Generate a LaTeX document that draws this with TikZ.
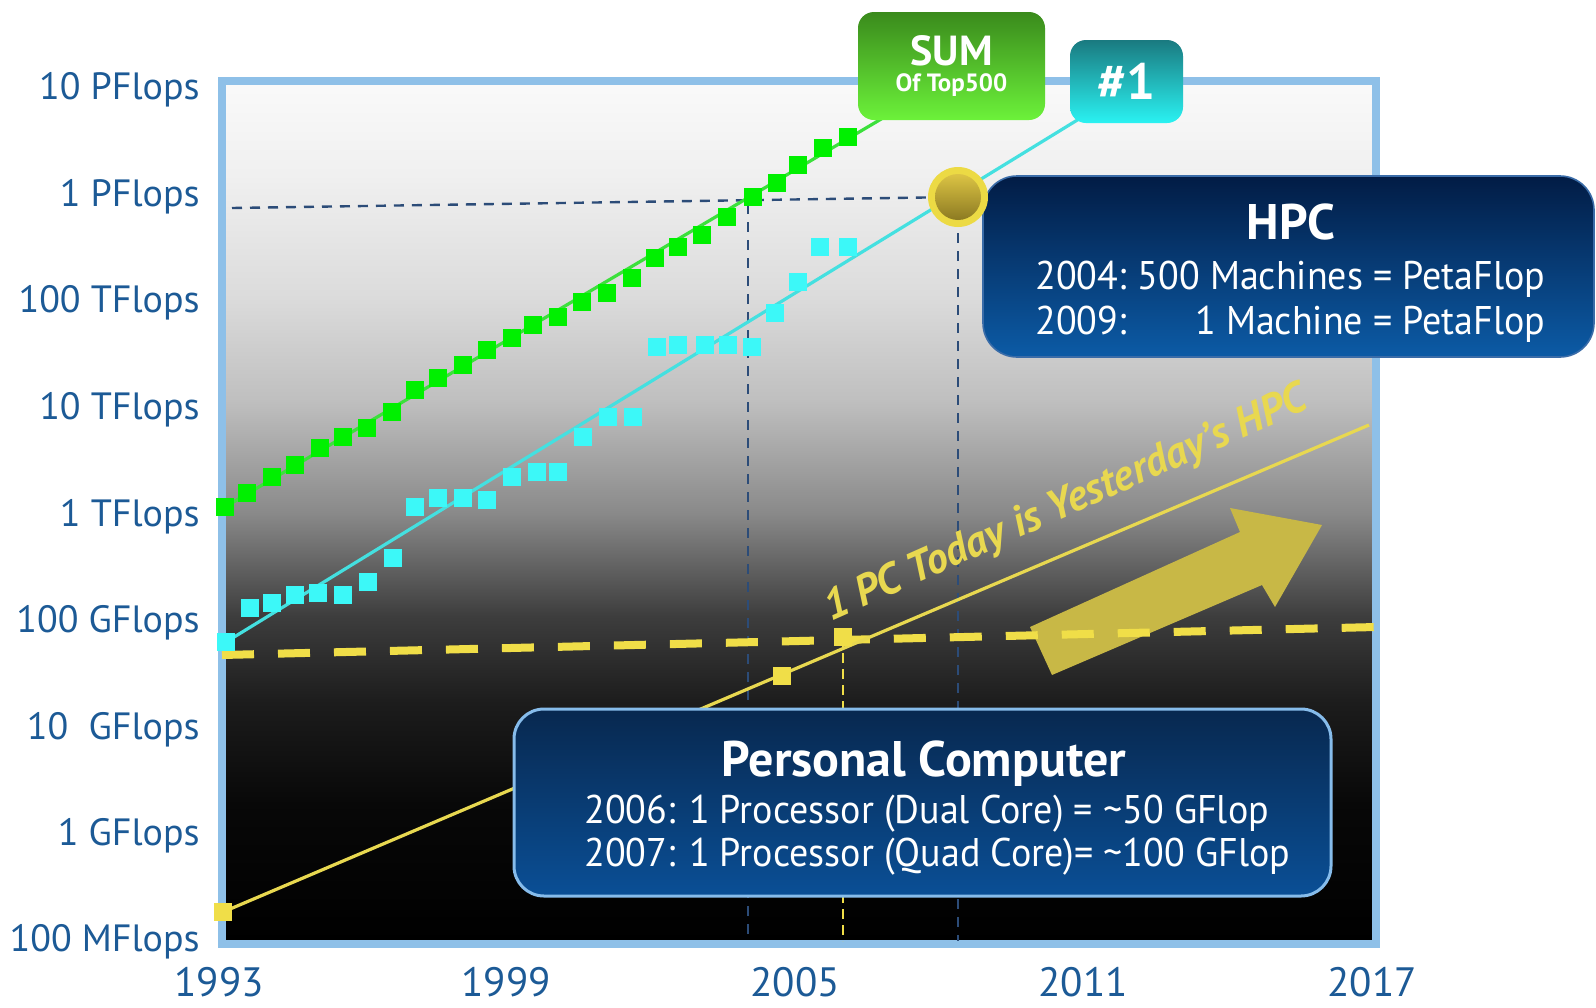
\documentclass[tikz,border=0pt]{standalone}
\usepackage{fontspec}
\setmainfont{PT Sans}
\newfontfamily\bodyfont{PT Sans}[FakeStretch=0.95]
\usetikzlibrary{calc}
\pgfdeclarelayer{bg}
\pgfdeclarelayer{lines}
\pgfsetlayers{bg,lines,main}
\definecolor{axisblue}{HTML}{1C5A96}
\definecolor{framecol}{HTML}{8EC0E8}
\definecolor{gmark}{HTML}{00F000}
\definecolor{gline}{HTML}{3CE03C}
\definecolor{cmark}{HTML}{3CF8F8}
\definecolor{cline}{HTML}{44E0E0}
\definecolor{ymark}{HTML}{F0DE48}
\definecolor{yline}{HTML}{E8D850}
\definecolor{arrowcol}{HTML}{C8B846}
\definecolor{dashblue}{HTML}{2C4C78}
\definecolor{sumtop}{HTML}{3A8A1C}
\definecolor{sumbot}{HTML}{6CF23A}
\definecolor{onetop}{HTML}{1A7A80}
\definecolor{onebot}{HTML}{2AF2F2}
\definecolor{hpctop}{HTML}{021C45}
\definecolor{hpcbot}{HTML}{0C5BA6}
\definecolor{hpcedge}{HTML}{3A6CA8}
\definecolor{pctop}{HTML}{08284F}
\definecolor{pcbot}{HTML}{0A4F96}
\definecolor{pcborder}{HTML}{86BCEB}
\definecolor{ballrim}{HTML}{ECDA44}
\definecolor{balltop}{HTML}{DCC444}
\definecolor{ballbot}{HTML}{8C7A22}
\pgfdeclareverticalshading{plotbg}{100bp}{color(0bp)=(black); color(25bp)=(black); color(33bp)=(black!97); color(39bp)=(black!89); color(44bp)=(black!76); color(50bp)=(black!46); color(56.5bp)=(black!25); color(62.5bp)=(black!14); color(69.5bp)=(black!6); color(75bp)=(black!2); color(100bp)=(black!2)}
\begin{document}
\begin{tikzpicture}[x=0.5pt,y=-0.5pt,
  axlab/.style={anchor=base east, text=axisblue, font=\fontsize{19}{19}\selectfont, inner sep=0},
  yearlab/.style={anchor=base, text=axisblue, font=\fontsize{20.5}{20.5}\selectfont, inner sep=0},
  gsq/.style={rectangle, fill=gmark, minimum size=9pt, inner sep=0},
  csq/.style={rectangle, fill=cmark, minimum size=9pt, inner sep=0},
  ysq/.style={rectangle, fill=ymark, minimum size=9pt, inner sep=0},
  sumbox/.style={rectangle, rounded corners=8pt, top color=sumtop, bottom color=sumbot, minimum width=93.5pt, minimum height=54pt, align=center, text=white, inner sep=0},
  onebox/.style={rectangle, rounded corners=8pt, top color=onetop, bottom color=onebot, minimum width=56.5pt, minimum height=41.5pt, text=white, inner sep=0},
  hpcbox/.style={rectangle, rounded corners=17pt, top color=hpctop, bottom color=hpcbot, draw=hpcedge, line width=0.8pt, minimum width=305.5pt, minimum height=90.5pt},
  pcbox/.style={rectangle, rounded corners=15pt, top color=pctop, bottom color=pcbot, draw=pcborder, line width=1.5pt, minimum width=408.5pt, minimum height=93.5pt},
  boxtitle/.style={anchor=base, text=white, inner sep=0},
  boxbody/.style={anchor=base west, text=white, inner sep=0},
  bluedash/.style={draw=dashblue, line width=1.2pt, dash pattern=on 5pt off 4pt},
  yellowdash/.style={draw=ymark, line width=4pt, dash pattern=on 16pt off 12pt},
]
\useasboundingbox (0,0) rectangle (1596,1007);

% ---------- background and frame ----------
\begin{pgfonlayer}{bg}
  \fill[white] (0,0) rectangle (1596,1007);
  \shade[shading=plotbg] (222,81) rectangle (1376,944);
  \draw[framecol, line width=4pt] (222,81) rectangle (1376,944);
\end{pgfonlayer}

% ---------- axis labels ----------
\node[axlab] (l8) at (200,99) {10 PFlops};
\node[axlab] (l7) at (200,206) {1 PFlops};
\node[axlab] (l6) at (200,312) {100 TFlops};
\node[axlab] (l5) at (200,419) {10 TFlops};
\node[axlab] (l4) at (200,526) {1 TFlops};
\node[axlab] (l3) at (200,632) {100 GFlops};
\node[axlab] (l2) at (200,739) {10\ \ GFlops};
\node[axlab] (l1) at (200,845) {1 GFlops};
\node[axlab] (l0) at (200,951) {100 MFlops};

\node[yearlab] (yr1) at (219,996) {1993};
\node[yearlab] (yr2) at (506,996) {1999};
\node[yearlab] (yr3) at (795,996) {2005};
\node[yearlab] (yr4) at (1083,996) {2011};
\node[yearlab] (yr5) at (1372,996) {2017};

% ---------- boxes ----------
\node[sumbox] (sum) at (951.5,66) {{\bfseries\fontsize{21}{21}\selectfont SUM}\\[1pt]{\bfseries\fontsize{12.5}{12.5}\selectfont Of Top500}};
\node[onebox] (one) at (1126.5,81.5) {\bfseries\fontsize{25.5}{25.5}\selectfont \#1};

\node[hpcbox] (hpc) at (1288.5,266.5) {};
\node[boxtitle] (hpct) at (1291,239) {\bfseries\fontsize{25}{25}\selectfont HPC};
\node[boxbody] (hpcb) at (1035,289) {\bodyfont\fontsize{20}{22.5}\selectfont
  \begin{tabular}[t]{@{}l@{\hspace{0.28em}}r@{}}2004: & 500 Machines = PetaFlop\\ 2009: & 1 Machine = PetaFlop\end{tabular}};

\node[pcbox] (pc) at (922.5,802.5) {};
\node[boxtitle] (pct) at (924,776) {\bfseries\fontsize{25}{25}\selectfont Personal Computer};
\node[boxbody] (pcb) at (584,823) {\bodyfont\fontsize{20}{21.5}\selectfont
  \begin{tabular}[t]{@{}l@{}}2006: 1 Processor (Dual Core) = \textasciitilde50 GFlop\\ 2007: 1 Processor (Quad Core)= \textasciitilde100 GFlop\end{tabular}};

% ---------- markers ----------
\foreach \x/\y [count=\i] in {225/507,247/493,272/477,295/465,320/448,343/437,367/428,392/412,415/390,438/378,463/365,487/350,512/338,533/325,558/317,582/302,607/293,632/278,655/258,678/247,702/235,727/217,753/197,777/183,798/165,823/148,848/137}
  \node[gsq] (g\i) at (\x,\y) {};
\foreach \x/\y [count=\i] in {226/642,250/608,272/603,295/595,318/593,343/595,368/582,393/558,415/507,438/498,463/498,487/500,512/477,537/472,558/472,583/437,608/417,633/417,657/347,678/345,705/345,728/345,752/347,775/313,798/282,820/247,848/247}
  \node[csq] (c\i) at (\x,\y) {};
\node[ysq] (y1) at (223,912) {};
\node[ysq] (y2) at (782,676) {};
\node[ysq] (y3) at (843,637) {};

% ---------- ball ----------
\node[circle, fill=ballrim, minimum size=30pt, inner sep=0] (ball) at (958,197) {};
\shade[top color=balltop, bottom color=ballbot] (ball.center) circle[radius=11.5pt];

% ---------- slanted label ----------
\node[text=yline, rotate=24, inner sep=0, font=\bfseries\itshape\fontsize{21.5}{21.5}\selectfont] (pcline) at (1066,505) {1 PC Today is Yesterday's HPC};

% ---------- lines ----------
\coordinate (sumin) at ([xshift=14pt,yshift=2pt]sum.south west);
\coordinate (onein) at ([xshift=6pt,yshift=3pt]one.south west);
\coordinate (yend) at (1369,425);
\coordinate (hleft) at (232,208);
\coordinate (v1top) at (748,204);
\coordinate (v1bot) at (748,941);
\coordinate (ydl) at (222,655);
\coordinate (ydr) at (1376,627);

\begin{pgfonlayer}{lines}
  \fill[arrowcol] (1052,675) -- (1030,627) -- (1240,532) -- (1230,508) -- (1322,525) -- (1275,607) -- (1262,585) -- cycle;
  \draw[bluedash] (hleft) -- (ball.center);
  \draw[bluedash] (v1top) -- (v1bot);
  \draw[bluedash] (ball.center) -- (ball.center |- v1bot);
  \draw[draw=ymark, line width=1.2pt, dash pattern=on 5pt off 3pt] (y3.center) -- (y3.center |- v1bot);
  \draw[yellowdash] (ydl) -- (ydr);
  \draw[gline, line width=1.6pt] (g1.center) -- (sumin);
  \draw[cline, line width=1.6pt] (c1.center) -- (onein);
  \draw[yline, line width=1.6pt] (y1.center) -- (yend);
\end{pgfonlayer}
\end{tikzpicture}
\end{document}
